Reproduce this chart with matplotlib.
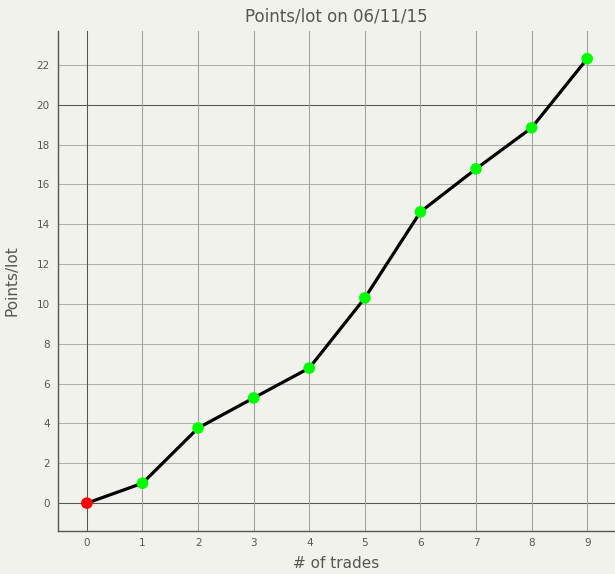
import matplotlib
matplotlib.use("Agg")
import matplotlib.pyplot as plt

trades = [0, 1, 2, 3, 4, 5, 6, 7, 8, 9]
points = [0.0, 1.0, 3.77, 5.28, 6.78, 10.3, 14.62, 16.78, 18.84, 22.31]
marker_colors = ['#ff0000'] + ['#00ff00'] * 9
xticks = list(range(10))
yticks = list(range(0, 23, 2))

bg = '#f2f2ec'
fig = plt.figure(figsize=(6.15, 5.74), dpi=100, facecolor=bg)
ax = fig.add_axes([0.0943, 0.0749, 0.9057, 0.8711])
ax.set_facecolor(bg)

ax.set_xlim(-0.52, 9.5)
ax.set_ylim(-1.4, 23.7)
ax.set_xticks(xticks)
ax.set_yticks(yticks)

for y in yticks:
    if y in (0, 20):
        ax.axhline(y, color='#555555', lw=0.75, zorder=1)
    else:
        ax.axhline(y, color='#b0b0ab', lw=0.75, zorder=1)
for x in xticks:
    if x == 0:
        ax.axvline(x, color='#555555', lw=0.75, zorder=1)
    else:
        ax.axvline(x, color='#a0a09c', lw=0.75, zorder=1)

ax.plot(trades, points, color='black', lw=2.3, zorder=2)
ax.scatter(trades, points, c=marker_colors, s=70, zorder=3, linewidths=0)

for s in ['top', 'right']:
    ax.spines[s].set_visible(False)
for s in ['left', 'bottom']:
    ax.spines[s].set_color('#555555')
    ax.spines[s].set_linewidth(1.0)

ax.tick_params(axis='x', length=0, labelsize=7.5, colors='#555555', pad=5)
ax.tick_params(axis='y', length=0, labelsize=7.5, colors='#555555', pad=6)
ax.set_title('Points/lot on 06/11/15', fontsize=12, color='#555555', pad=7)
ax.set_xlabel('# of trades', fontsize=11, color='#555555', labelpad=6)
ax.set_ylabel('Points/lot', fontsize=11, color='#555555', labelpad=12)

fig.savefig('out.png', dpi=100, facecolor=bg)
